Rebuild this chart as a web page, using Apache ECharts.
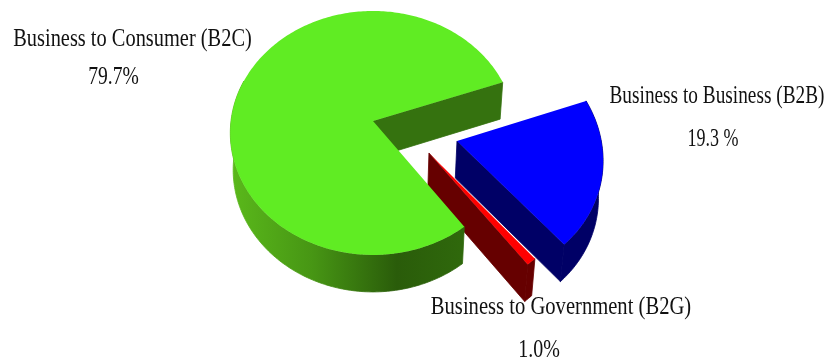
<!DOCTYPE html>
<html>
<head>
<meta charset="utf-8">
<style>html,body{margin:0;padding:0;background:#fff}#chart{width:827px;height:360px}</style>
<script src="https://cdn.jsdelivr.net/npm/echarts@6/dist/echarts.min.js"></script>
</head>
<body>
<div id="chart"></div>
<script>
// E-commerce market share by business model, clockwise from the right-hand cut.
const categories = ['Business to Business (B2B)', 'Business to Government (B2G)', 'Business to Consumer (B2C)'];
const shares = [19.3, 1.0, 79.7];
const shareLabels = ['19.3 %', '1.0%', '79.7%'];

// Tilted-disc projection: unit disc to screen with perspective toward the viewer.
const ORIGIN = [373, 121], SCALE = [142, 120.8], PERSPECTIVE = -0.098;
const DEPTH = 37, BASE_SHRINK = 0.98, START_DEG = -19.4;

// Per-slice styling, in the order of `categories`.
const explode = [[0.582, 0.163], [0.384, 0.258], [0, 0]];
const stacking = [3, 1, 2];
const topColors = ['#0000ff', '#ff0000', '#60ec23'];
const wallColors = ['#000066', '#660000', '#35720f'];
const rimColors = ['#000066', '#660000', {
  type: 'linear', global: true, x: 232, y: 0, x2: 461, y2: 0,
  colorStops: [
    { offset: 0, color: '#5ab81b' },
    { offset: 0.35, color: '#479614' },
    { offset: 0.72, color: '#2a5c0a' },
    { offset: 1, color: '#2f680c' }
  ]
}];
const labelBoxes = [
  { x: 717, y: 97, sx: 0.965, vx: 713, vy: 140, vsx: 0.9 },
  { x: 561, y: 308, sx: 1.03, vx: 539, vy: 351, vsx: 1 },
  { x: 132.5, y: 39.5, sx: 1.02, vx: 113.5, vy: 78, vsx: 0.98 }
];
const TEXT_STRETCH = 1.22;

function project(u, v) {
  const w = 1 + PERSPECTIVE * v;
  return [ORIGIN[0] + SCALE[0] * u / w, ORIGIN[1] + SCALE[1] * v / w];
}
function lower(p) {
  return [ORIGIN[0] + BASE_SHRINK * (p[0] - ORIGIN[0]), p[1] + DEPTH];
}
function rimPoints(off, a0, a1) {
  const pts = [], n = Math.max(2, Math.ceil(a1 - a0));
  for (let i = 0; i <= n; i++) {
    const t = (a0 + (a1 - a0) * i / n) * Math.PI / 180;
    pts.push(project(off[0] + Math.cos(t), off[1] + Math.sin(t)));
  }
  return pts;
}

const total = shares.reduce((a, b) => a + b, 0);
const startAngles = [];
shares.reduce((acc, s, i) => { startAngles[i] = acc; return acc + s / total * 360; }, START_DEG);

function renderSlice(params, api) {
  const i = params.dataIndex;
  const a0 = startAngles[i], a1 = a0 + api.value(0) / total * 360;
  const off = explode[i], z = stacking[i] * 10;
  const apex = project(off[0], off[1]);
  const rim = rimPoints(off, a0, a1);
  const cut = rim[rim.length - 1];
  const poly = (points, fill, dz, seam) => ({
    type: 'polygon', z2: z + dz, shape: { points },
    style: seam ? { fill, stroke: fill, lineWidth: 0.8 } : { fill }
  });
  const children = [];

  // Each slice shows the cut face at the end of its sweep.
  children.push(poly([apex, cut, lower(cut), lower(apex)], wallColors[i], 0, true));

  // Outer cylinder wall: only the front part needs drawing.
  const front = i === 2 ? rimPoints(off, a0, 200) : rim;
  children.push(poly(front.concat(front.map(lower).reverse()), rimColors[i], 1, true));

  // Top face.
  children.push(poly([apex].concat(rim), topColors[i], 2, false));

  const box = labelBoxes[i];
  const font = '20px "Liberation Serif", "Times New Roman", serif';
  const text = (str, x, y, sx) => ({
    type: 'text', z2: 100, x, y, scaleX: sx, scaleY: TEXT_STRETCH,
    style: { text: str, x: 0, y: 0, font, fill: '#111', align: 'center', verticalAlign: 'middle' }
  });
  children.push(text(categories[i], box.x, box.y, box.sx));
  children.push(text(shareLabels[i], box.vx, box.vy, box.vsx));
  return { type: 'group', children };
}

const chart = echarts.init(document.getElementById('chart'), null, { renderer: 'canvas' });
chart.setOption({
  backgroundColor: '#ffffff',
  animation: false,
  series: [{
    type: 'custom',
    coordinateSystem: 'none',
    silent: true,
    renderItem: renderSlice,
    data: shares.map((s, i) => ({ name: categories[i], value: [s] }))
  }]
});
</script>
</body>
</html>
